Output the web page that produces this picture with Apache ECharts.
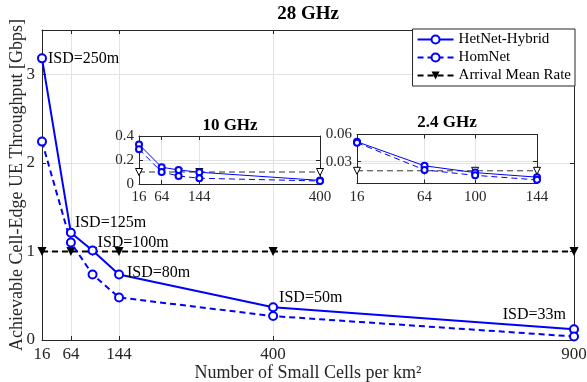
<!DOCTYPE html>
<html><head><meta charset="utf-8">
<script src="https://cdn.jsdelivr.net/npm/echarts@6/dist/echarts.min.js"></script>
<style>html,body{margin:0;padding:0;background:#fff}#c{width:587px;height:382px}</style>
</head><body><div id="c"></div>
<script>
// ---- data ----
const densityMain = [16, 64, 100, 144, 400, 900];
const hetnet28 = [3.18, 1.21, 1.01, 0.74, 0.37, 0.12];
const homnet28 = [2.24, 1.10, 0.74, 0.48, 0.27, 0.04];
const arrival28 = [1, 1, 1, 1, 1, 1];
const isdLabels = ['ISD=250m', 'ISD=125m', 'ISD=100m', 'ISD=80m', 'ISD=50m', 'ISD=33m'];

const density10 = [16, 64, 100, 144, 400];
const hetnet10 = [0.33, 0.14, 0.117, 0.098, 0.03];
const homnet10 = [0.29, 0.10, 0.067, 0.048, 0.025];
const arrival10 = [0.1, 0.1, 0.1, 0.1, 0.1];

const density24 = [16, 64, 100, 144];
const hetnet24 = [0.052, 0.0255, 0.018, 0.013];
const homnet24 = [0.051, 0.021, 0.015, 0.010];
const arrival24 = [0.02, 0.02, 0.02, 0.02];

const ticksMainX = [16, 64, 144, 400, 900];
const ticks10X = [16, 64, 144, 400];
const ticks10Y = [0, 0.2, 0.4];
const ticks24X = [16, 64, 100, 144];
const ticks24Y = [0.03, 0.06];

const titles = ['28 GHz', '10 GHz', '2.4 GHz'];
const names = ['HetNet-Hybrid', 'HomNet', 'Arrival Mean Rate'];
const xName = 'Number of Small Cells per km²';
const yName = 'Achievable Cell-Edge UE Throughput [Gbps]';

// ---- styling ----
const FONT = '"Liberation Serif", "Times New Roman", serif';
const AX = '#262626';
const GRIDC = '#e3e3e3';
const BLUE = '#0000ff';
const labelLayout = [
  {position: 'right', offset: [-4, 0]},
  {position: 'right', offset: [-6, -10]},
  {position: 'right', offset: [-5, -8]},
  {position: 'right', offset: [-2, -2]},
  {position: 'right', offset: [-4, -9]},
  {position: 'left', offset: [2, -15]}
];

function pairs(xs, ys) { return xs.map((x, i) => [x, ys[i]]); }

function xAxes(grid, min, max, ticks, fs, withName) {
  const common = {
    gridIndex: grid, type: 'value', min: min, max: max,
    axisLine: {show: true, onZero: false, lineStyle: {color: AX, width: 1}},
    axisTick: {show: true, inside: true, length: 4, customValues: ticks, lineStyle: {color: AX}},
    axisPointer: {show: false}
  };
  return [
    Object.assign({}, common, {
      position: 'bottom',
      axisLabel: {show: true, customValues: ticks, color: AX, fontFamily: FONT, fontSize: fs, margin: 6},
      splitLine: {show: true, lineStyle: {color: GRIDC, width: 1}},
      name: withName ? xName : '', nameLocation: 'middle', nameGap: 24, nameMoveOverlap: false,
      nameTextStyle: {color: AX, fontFamily: FONT, fontSize: 18, verticalAlign: 'top'}
    }),
    Object.assign({}, common, {
      position: 'top',
      axisLabel: {show: false, customValues: ticks},
      splitLine: {show: false}
    })
  ];
}
function yAxes(grid, min, max, ticks, fs, withName, interval) {
  const common = {
    gridIndex: grid, type: 'value', min: min, max: max,
    axisLine: {show: true, onZero: false, lineStyle: {color: AX, width: 1}},
    axisTick: {show: true, inside: true, length: 4, lineStyle: {color: AX}},
    axisPointer: {show: false}
  };
  if (interval) common.interval = interval;
  else common.axisTick.customValues = ticks;
  return [
    Object.assign({}, common, {
      position: 'left',
      axisLabel: interval ? {show: true, color: AX, fontFamily: FONT, fontSize: fs, margin: 7, showMaxLabel: false}
                          : {show: true, customValues: ticks, color: AX, fontFamily: FONT, fontSize: fs, margin: 5},
      splitLine: {show: true, lineStyle: {color: GRIDC, width: 1}},
      name: withName ? yName : '', nameLocation: 'middle', nameGap: 16, nameMoveOverlap: false,
      nameTextStyle: {color: AX, fontFamily: FONT, fontSize: 18}
    }),
    Object.assign({}, common, {
      position: 'right',
      axisLabel: interval ? {show: false} : {show: false, customValues: ticks},
      splitLine: {show: false}
    })
  ];
}

const mainX = xAxes(0, 16, 900, ticksMainX, 17, true);
const x10 = xAxes(1, 16, 400, ticks10X, 15, false);
const x24 = xAxes(2, 16, 144, ticks24X, 15, false);
const mainY = yAxes(0, 0, 3.5, null, 17, true, 1);
const y10 = yAxes(1, 0, 0.4, ticks10Y, 15, false);
const y24 = yAxes(2, 0.006, 0.06, ticks24Y, 15, false);

function blueSeries(name, xi, yi, data, dashed, big) {
  return {
    name: name, type: 'line', xAxisIndex: xi, yAxisIndex: yi, data: data,
    symbol: 'emptyCircle', symbolSize: big ? 8 : 6,
    itemStyle: {color: BLUE, borderWidth: big ? 2 : 1},
    lineStyle: {color: BLUE, width: big ? 2 : 1, type: dashed ? [6, 4] : 'solid'},
    emphasis: {disabled: true}, animation: false, z: 3
  };
}
function arrivalSeries(xi, yi, data, big) {
  return {
    name: names[2], type: 'line', xAxisIndex: xi, yAxisIndex: yi, data: data,
    symbol: 'triangle', symbolRotate: 180, symbolSize: big ? 9 : 7,
    itemStyle: big ? {color: '#000'} : {color: '#fff', borderColor: '#000', borderWidth: 1},
    lineStyle: {color: big ? '#000' : '#333', width: big ? 2 : 1, type: [6, 4]},
    emphasis: {disabled: true}, animation: false, z: 2
  };
}

const hetMainData = densityMain.map((x, i) => ({
  value: [x, hetnet28[i]],
  label: Object.assign({show: true, formatter: isdLabels[i], color: '#000', fontFamily: FONT, fontSize: 16, distance: 5}, labelLayout[i])
}));

const gridBase = {outerBoundsMode: 'none', containLabel: false};
const titleStyle = (fs) => ({fontFamily: FONT, fontSize: fs, fontWeight: 'bold', color: '#000'});
const option = {
  animation: false,
  backgroundColor: '#fff',
  title: [
    {text: titles[0], left: 308, top: 5, padding: 0, textAlign: 'center', textStyle: titleStyle(19)},
    {text: titles[1], left: 230, top: 117, padding: 0, textAlign: 'center', textStyle: titleStyle(17)},
    {text: titles[2], left: 447, top: 114, padding: 0, textAlign: 'center', textStyle: titleStyle(17)}
  ],
  legend: {
    data: names, orient: 'vertical', right: 12, top: 29,
    padding: [3, 4, 3, 4], itemGap: 3, itemWidth: 36, itemHeight: 10,
    borderColor: AX, borderWidth: 1, backgroundColor: '#fff',
    textStyle: {fontFamily: FONT, fontSize: 15, color: '#000'}, z: 10
  },
  grid: [
    Object.assign({left: 42, top: 30, width: 532, height: 310}, gridBase),
    Object.assign({left: 139, top: 136, width: 181, height: 48}, gridBase),
    Object.assign({left: 357, top: 134.5, width: 180, height: 49}, gridBase)
  ],
  xAxis: [].concat(mainX, x10, x24),
  yAxis: [].concat(mainY, y10, y24),
  series: [
    blueSeries(names[0], 0, 0, hetMainData, false, true),
    blueSeries(names[1], 0, 0, pairs(densityMain, homnet28), true, true),
    arrivalSeries(0, 0, pairs(densityMain, arrival28), true),
    blueSeries(names[0], 2, 2, pairs(density10, hetnet10), false, false),
    blueSeries(names[1], 2, 2, pairs(density10, homnet10), true, false),
    arrivalSeries(2, 2, pairs(density10, arrival10), false),
    blueSeries(names[0], 4, 4, pairs(density24, hetnet24), false, false),
    blueSeries(names[1], 4, 4, pairs(density24, homnet24), true, false),
    arrivalSeries(4, 4, pairs(density24, arrival24), false)
  ]
};
const chart = echarts.init(document.getElementById('c'), null, {renderer: 'canvas'});
chart.setOption(option);
</script>
</body></html>
